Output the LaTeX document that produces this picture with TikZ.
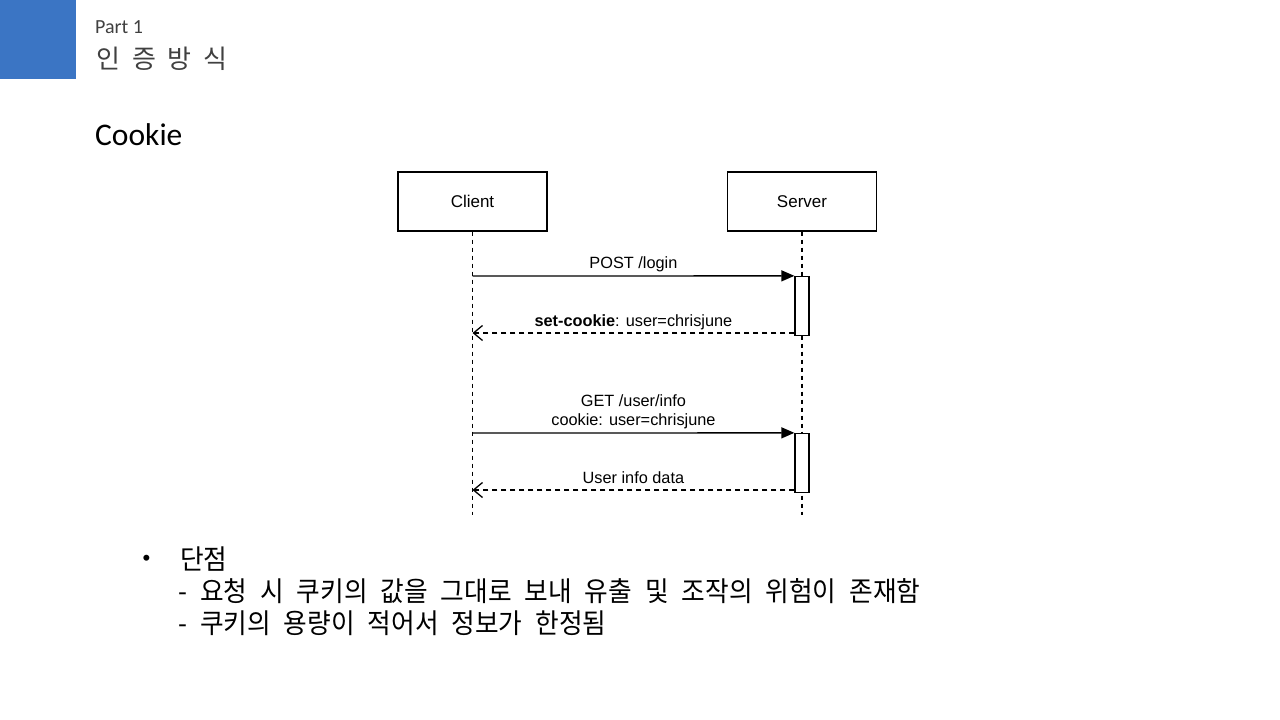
\documentclass[tikz,border=0pt]{standalone}
\usepackage{fontspec}
\setmainfont{Liberation Sans}
\newfontfamily\slidefont{Carlito}
\newfontfamily\kofont[WordSpace=2.05]{Noto Sans CJK KR}
\newfontfamily\kobody[FakeStretch=0.935,WordSpace=2.24]{Noto Sans CJK KR}
\usetikzlibrary{arrows.meta}
\definecolor{slideblue}{RGB}{59,117,196}
\definecolor{titlegray}{RGB}{64,64,64}
\tikzset{
  actor/.style={draw, line width=1.3pt, minimum width=149pt, minimum height=59pt, font=\fontsize{17}{20}\selectfont},
  lifeline/.style={line width=1.3pt, dash pattern=on 4pt off 4pt},
  actbar/.style={draw, fill=white, line width=1.3pt, minimum width=14pt, minimum height=59pt},
  callmsg/.style={line width=1.3pt, -{Triangle[length=13pt,width=11pt]}},
  replymsg/.style={line width=1.3pt, dash pattern=on 5pt off 4pt, -{Straight Barb[length=9pt,width=15pt]}},
  msglbl/.style={anchor=base, yshift=7pt, font=\fontsize{16.3}{19}\selectfont}
}
\begin{document}
\begin{tikzpicture}[x=1pt,y=-1pt]
  \useasboundingbox (0,0) rectangle (1280,720);
  % slide header
  \fill[slideblue] (0,0) rectangle (76,79);
  \node[anchor=base west, inner sep=0, text=titlegray, font=\slidefont\fontsize{20}{24}\selectfont] (part) at (95,33) {Part 1};
  \node[anchor=base west, inner sep=0, text=titlegray, font=\kofont\fontsize{26}{30}\selectfont] (title) at (96,68) {인 증 방 식};
  \node[anchor=base west, inner sep=0, font=\slidefont\fontsize{31.5}{36}\selectfont] (cookie) at (95,145) {Cookie};
  % participants
  \node[actor] (client) at (472.5,201.5) {Client};
  \node[actor] (server) at (802,201.5) {Server};
  \coordinate (clientend) at (472.5,515);
  \coordinate (serverend) at (802,515);
  \draw[lifeline] (client.south) -- (clientend);
  \draw[lifeline] (server.south) -- (serverend);
  % activations
  \node[actbar] (act1) at (802,306) {};
  \node[actbar] (act2) at (802,463) {};
  % messages
  \coordinate (c1) at (472.5,276);
  \coordinate (c2) at (472.5,333);
  \coordinate (c3) at (472.5,433);
  \coordinate (c4) at (472.5,490);
  \draw[callmsg] (c1) -- node[msglbl]{POST /login} (act1.north west);
  \draw[replymsg] (act1.west |- c2) -- node[msglbl]{\textbf{set-cookie}: user=chrisjune} (c2);
  \draw[callmsg] (c3) -- node[msglbl, align=center]{GET /user/info\\cookie: user=chrisjune} (act2.north west);
  \draw[replymsg] (act2.west |- c4) -- node[msglbl]{User info data} (c4);
  % bullet text
  \node[anchor=center, inner sep=0, font=\fontsize{22}{24}\selectfont] (dot) at (146.5,560) {•};
  \node[anchor=base west, inner sep=0, font=\kobody\fontsize{27.5}{32}\selectfont] (cons) at (180,569) {단점};
  \node[anchor=base west, inner sep=0, font=\kobody\fontsize{27.5}{32}\selectfont] (cons1) at (178,601) {- 요청 시 쿠키의 값을 그대로 보내 유출 및 조작의 위험이 존재함};
  \node[anchor=base west, inner sep=0, font=\kobody\fontsize{27.5}{32}\selectfont] (cons2) at (178,633) {- 쿠키의 용량이 적어서 정보가 한정됨};
\end{tikzpicture}
\end{document}
